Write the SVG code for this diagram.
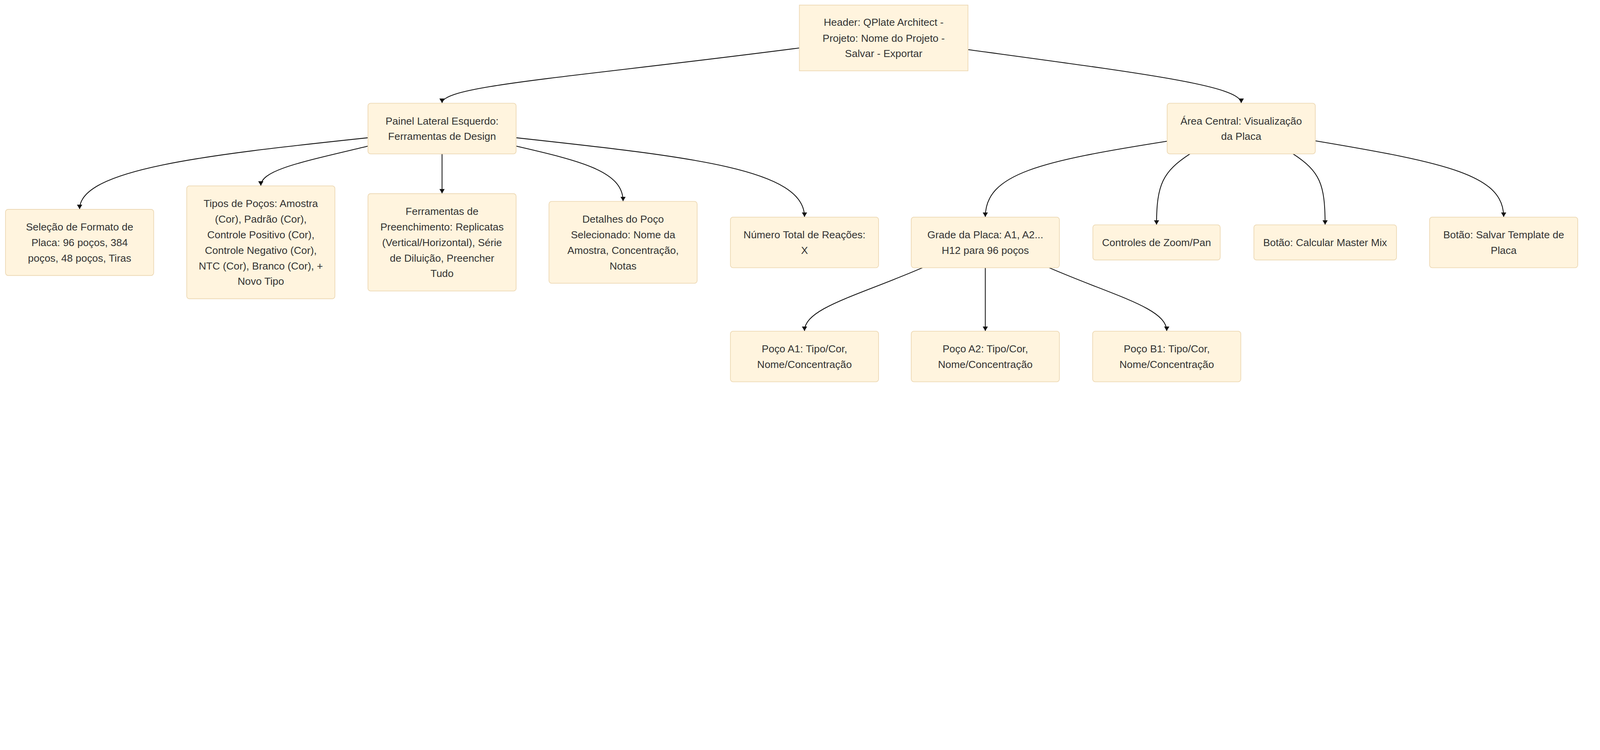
<svg xmlns="http://www.w3.org/2000/svg" width="7840" height="1920" viewBox="0 0 7840 1920" style="max-width:100%;height:auto">
<style>
.node rect{fill:#fff4de;stroke:#edd9b5;stroke-width:3.5}
.node text{font-family:"Liberation Sans",Arial,sans-serif;font-size:50.6px;fill:#333;text-anchor:middle}
.edges path{fill:none;stroke:#111;stroke-width:4}
</style>
<defs>
<marker id="arr" markerUnits="userSpaceOnUse" viewBox="0 0 22 26" markerWidth="22" markerHeight="26" refX="22" refY="13" orient="auto">
<path d="M0,0 L22,13 L0,26 z" fill="#111"/>
</marker>
</defs>
<rect width="7840" height="1920" fill="#fff"/>
<g class="edges">
<path marker-end="url(#arr)" d="M3917,235 C2800,380 2166,420 2166,505"/>
<path marker-end="url(#arr)" d="M4743,243 C5600,360 6082,420 6082,505"/>
<path marker-end="url(#arr)" d="M1803,675 C1000,760 390,830 390,1025"/>
<path marker-end="url(#arr)" d="M1803,716 C1500,790 1278,830 1278,910"/>
<path marker-end="url(#arr)" d="M2166,754 L2166,948"/>
<path marker-end="url(#arr)" d="M2529,716 C2850,790 3053,840 3053,986"/>
<path marker-end="url(#arr)" d="M2529,675 C3400,770 3942,830 3942,1063"/>
<path marker-end="url(#arr)" d="M5719,692 C5100,790 4828,850 4828,1063"/>
<path marker-end="url(#arr)" d="M5831,754 C5700,840 5667,900 5667,1101"/>
<path marker-end="url(#arr)" d="M6336,754 C6467,840 6493,900 6493,1101"/>
<path marker-end="url(#arr)" d="M6445,690 C7100,800 7368,860 7368,1063"/>
<path marker-end="url(#arr)" d="M4520,1312 C4200,1450 3942,1510 3942,1622"/>
<path marker-end="url(#arr)" d="M4828,1312 L4828,1622"/>
<path marker-end="url(#arr)" d="M5141,1312 C5460,1450 5717,1510 5717,1622"/>
</g>
<g id="header" class="node">
<rect x="3917" y="25" width="826" height="322"/>
<text x="4330" y="127">Header: QPlate Architect -</text>
<text x="4330" y="204">Projeto: Nome do Projeto -</text>
<text x="4330" y="280">Salvar - Exportar</text>
</g>
<g id="painel" class="node">
<rect x="1803" y="506" width="726" height="248" rx="13"/>
<text x="2166" y="610">Painel Lateral Esquerdo:</text>
<text x="2166" y="686">Ferramentas de Design</text>
</g>
<g id="area" class="node">
<rect x="5719" y="506" width="726" height="248" rx="13"/>
<text x="6082" y="610">Área Central: Visualização</text>
<text x="6082" y="686">da Placa</text>
</g>
<g id="selecao" class="node">
<rect x="27" y="1026" width="726" height="324" rx="13"/>
<text x="390" y="1129">Seleção de Formato de</text>
<text x="390" y="1206">Placa: 96 poços, 384</text>
<text x="390" y="1282">poços, 48 poços, Tiras</text>
</g>
<g id="tipos" class="node">
<rect x="915" y="911" width="726" height="553" rx="13"/>
<text x="1278" y="1015">Tipos de Poços: Amostra</text>
<text x="1278" y="1091">(Cor), Padrão (Cor),</text>
<text x="1278" y="1167">Controle Positivo (Cor),</text>
<text x="1278" y="1244">Controle Negativo (Cor),</text>
<text x="1278" y="1320">NTC (Cor), Branco (Cor), +</text>
<text x="1278" y="1396">Novo Tipo</text>
</g>
<g id="ferramentas" class="node">
<rect x="1803" y="949" width="726" height="477" rx="13"/>
<text x="2166" y="1053">Ferramentas de</text>
<text x="2166" y="1129">Preenchimento: Replicatas</text>
<text x="2166" y="1206">(Vertical/Horizontal), Série</text>
<text x="2166" y="1282">de Diluição, Preencher</text>
<text x="2166" y="1358">Tudo</text>
</g>
<g id="detalhes" class="node">
<rect x="2690" y="987" width="726" height="401" rx="13"/>
<text x="3053" y="1091">Detalhes do Poço</text>
<text x="3053" y="1167">Selecionado: Nome da</text>
<text x="3053" y="1244">Amostra, Concentração,</text>
<text x="3053" y="1320">Notas</text>
</g>
<g id="numero" class="node">
<rect x="3579" y="1064" width="726" height="248" rx="13"/>
<text x="3942" y="1167">Número Total de Reações:</text>
<text x="3942" y="1244">X</text>
</g>
<g id="grade" class="node">
<rect x="4465" y="1064" width="726" height="248" rx="13"/>
<text x="4828" y="1167">Grade da Placa: A1, A2...</text>
<text x="4828" y="1244">H12 para 96 poços</text>
</g>
<g id="controles" class="node">
<rect x="5355" y="1102" width="624" height="172" rx="13"/>
<text x="5667" y="1206">Controles de Zoom/Pan</text>
</g>
<g id="calcular" class="node">
<rect x="6144" y="1102" width="699" height="172" rx="13"/>
<text x="6493" y="1206">Botão: Calcular Master Mix</text>
</g>
<g id="salvar" class="node">
<rect x="7005" y="1064" width="726" height="248" rx="13"/>
<text x="7368" y="1167">Botão: Salvar Template de</text>
<text x="7368" y="1244">Placa</text>
</g>
<g id="pocoA1" class="node">
<rect x="3579" y="1623" width="726" height="248" rx="13"/>
<text x="3942" y="1727">Poço A1: Tipo/Cor,</text>
<text x="3942" y="1803">Nome/Concentração</text>
</g>
<g id="pocoA2" class="node">
<rect x="4465" y="1623" width="726" height="248" rx="13"/>
<text x="4828" y="1727">Poço A2: Tipo/Cor,</text>
<text x="4828" y="1803">Nome/Concentração</text>
</g>
<g id="pocoB1" class="node">
<rect x="5354" y="1623" width="726" height="248" rx="13"/>
<text x="5717" y="1727">Poço B1: Tipo/Cor,</text>
<text x="5717" y="1803">Nome/Concentração</text>
</g>
</svg>
